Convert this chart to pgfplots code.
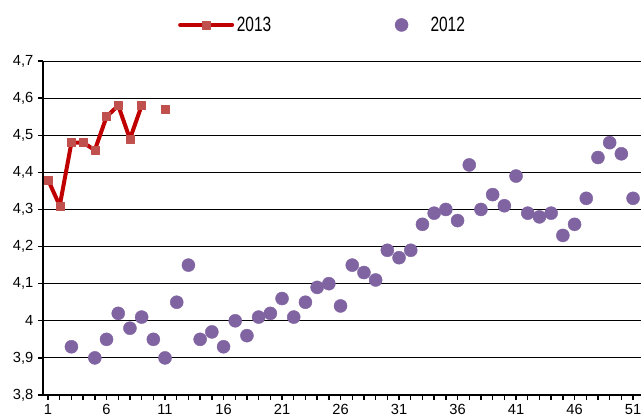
\documentclass[border=0pt]{standalone}
\usepackage{fontspec}
\setmainfont{Liberation Sans}
\newfontfamily\legendfont{Liberation Sans}[FakeStretch=0.75]
\usepackage{pgfplots}
\pgfplotsset{compat=1.18}
\definecolor{line13}{RGB}{192,0,0}
\definecolor{mark13}{RGB}{192,80,77}
\definecolor{pts12}{RGB}{128,100,162}
\begin{document}
\begin{tikzpicture}
  \begin{axis}[
    scale only axis,
    width=455.7pt, height=250.5pt,
    xmin=0.57, xmax=52.5,
    ymin=3.8, ymax=4.7,
    axis x line*=bottom, axis y line*=left,
    axis line style={-, line width=1.5pt, black},
    xtick={1,6,...,51},
    minor x tick num=4,
    ytick={3.8,3.9,4,4.1,4.2,4.3,4.4,4.5,4.6,4.7},
    tick align=outside,
    major tick length=3.75pt, minor tick length=3.75pt,
    tick style={black, line width=1pt},
    ymajorgrids,
    major grid style={black, line width=0.75pt},
    /pgf/number format/.cd, use comma, fixed, precision=1, assume math mode=true,
    /pgfplots/.cd,
    tick label style={font=\fontsize{11}{13}\selectfont},
    unbounded coords=jump,
    legend columns=2,
    legend style={draw=none, fill=none, at={(0.222,1.108)}, anchor=west,
      font=\legendfont\fontsize{15.5}{18}\selectfont,
      inner sep=0pt, nodes={inner xsep=2pt, inner ysep=0pt},
      /tikz/every even column/.append style={column sep=76pt}},
    legend image code/.code={
      \path (0pt,0pt) (39pt,0pt);
      \draw[mark repeat=2, mark phase=2, #1]
        plot coordinates {(0pt,0pt) (19.5pt,0pt) (39pt,0pt)};
    },
  ]
  \addplot[line13, line width=3pt, line cap=round, line join=round,
    mark=square*, mark size=3pt,
    mark options={solid, fill=mark13, draw=mark13, line width=0.3pt}]
    coordinates {
      (1,4.38)(2,4.31)(3,4.48)(4,4.48)(5,4.46)(6,4.55)(7,4.58)(8,4.49)
      (9,4.58)(10,nan)(11,4.57)
    };
  \addlegendentry{2013}
  \addplot[only marks, mark=*, mark size=4.9pt,
    mark options={fill=pts12, draw=pts12, line width=0.3pt}]
    coordinates {
      (3,3.93)(5,3.90)(6,3.95)(7,4.02)(8,3.98)(9,4.01)(10,3.95)(11,3.90)
      (12,4.05)(13,4.15)(14,3.95)(15,3.97)(16,3.93)(17,4.00)(18,3.96)
      (19,4.01)(20,4.02)(21,4.06)(22,4.01)(23,4.05)(24,4.09)(25,4.10)
      (26,4.04)(27,4.15)(28,4.13)(29,4.11)(30,4.19)(31,4.17)(32,4.19)
      (33,4.26)(34,4.29)(35,4.30)(36,4.27)(37,4.42)(38,4.30)(39,4.34)
      (40,4.31)(41,4.39)(42,4.29)(43,4.28)(44,4.29)(45,4.23)(46,4.26)
      (47,4.33)(48,4.44)(49,4.48)(50,4.45)(51,4.33)
    };
  \addlegendentry{2012}
  \end{axis}
  \pgfresetboundingbox
  \path[use as bounding box] (-32.25pt,-15pt) rectangle (448.5pt,296.25pt);
\end{tikzpicture}
\end{document}
